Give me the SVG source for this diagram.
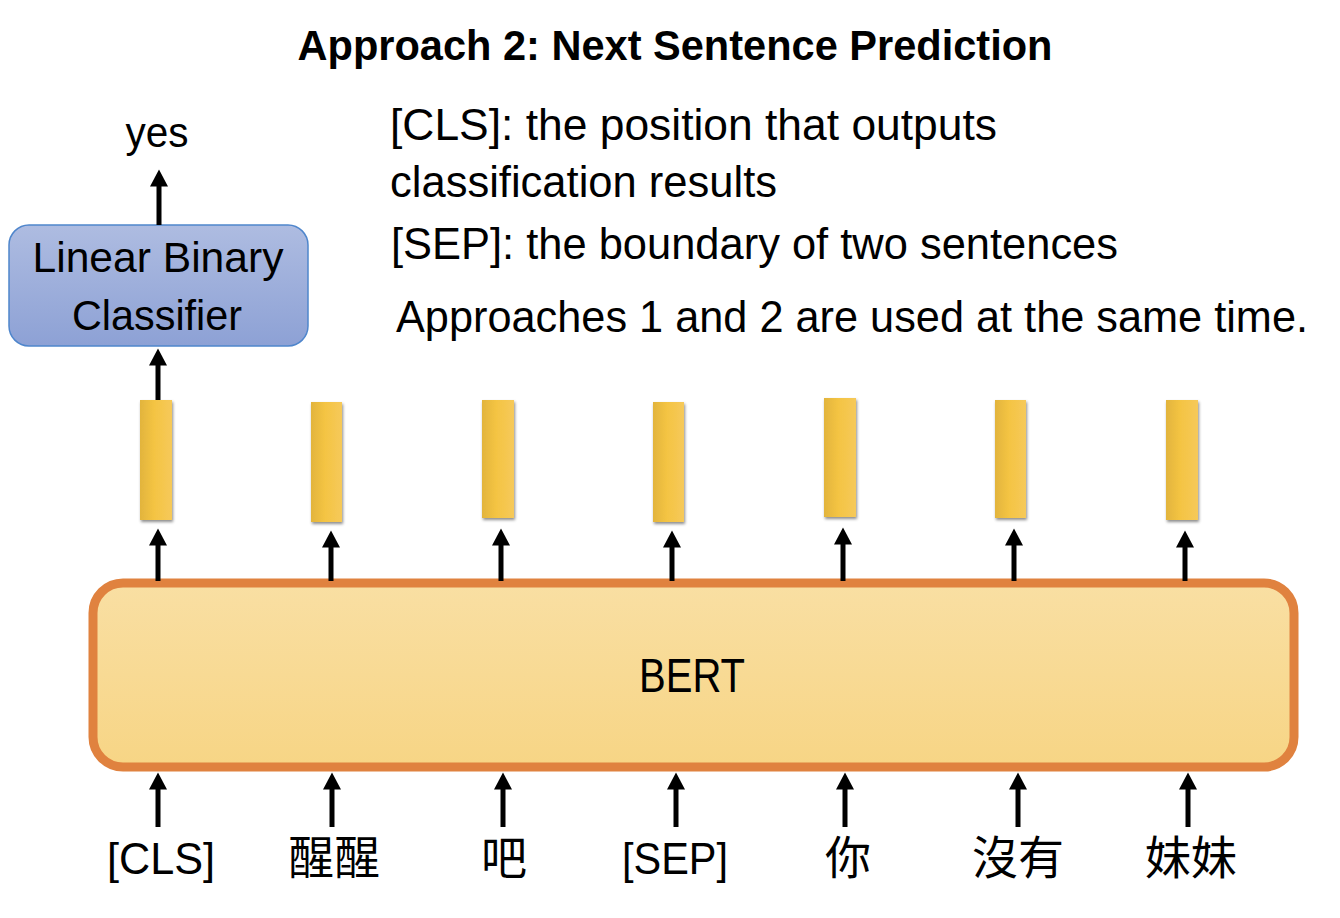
<svg xmlns="http://www.w3.org/2000/svg" width="1340" height="918" viewBox="0 0 1340 918">
<defs>
<style>
.t{font-family:"Liberation Sans",Arial,sans-serif;fill:#000}
.cjk{font-family:"Liberation Sans","Noto Sans CJK TC",sans-serif;fill:#000}
.arr{stroke:#000;stroke-width:5;fill:none;marker-end:url(#ah)}
.bar{fill:url(#barG);filter:url(#sh)}
</style>
<linearGradient id="bertG" x1="0" y1="0" x2="0" y2="1">
<stop offset="0" stop-color="#F9DFA3"/>
<stop offset="1" stop-color="#F7D585"/>
</linearGradient>
<linearGradient id="clsG" x1="0" y1="0" x2="0" y2="1">
<stop offset="0" stop-color="#AEBCE1"/>
<stop offset="1" stop-color="#8DA1D5"/>
</linearGradient>
<linearGradient id="barG" x1="0" y1="0" x2="1" y2="0">
<stop offset="0" stop-color="#E2B43D"/>
<stop offset="0.45" stop-color="#F4C443"/>
<stop offset="1" stop-color="#F6C95A"/>
</linearGradient>
<filter id="sh" x="-30%" y="-10%" width="160%" height="130%">
<feDropShadow dx="1" dy="2" stdDeviation="1.5" flood-color="#000" flood-opacity="0.45"/>
</filter>
<marker id="ah" markerUnits="userSpaceOnUse" markerWidth="18" markerHeight="18" viewBox="0 0 18 18" refX="0.5" refY="9" orient="auto">
<path d="M0,0 L17,9 L0,18 z" fill="#000"/>
</marker>
</defs>
<rect width="1340" height="918" fill="#fff"/>

<g id="title">
<text class="t" x="675" y="60" font-size="42" font-weight="bold" text-anchor="middle" textLength="755" lengthAdjust="spacingAndGlyphs">Approach 2: Next Sentence Prediction</text>
</g>

<g id="notes">
<text class="t" x="390" y="140" font-size="44" textLength="607" lengthAdjust="spacingAndGlyphs">[CLS]: the position that outputs</text>
<text class="t" x="390" y="197" font-size="44" textLength="387" lengthAdjust="spacingAndGlyphs">classification results</text>
<text class="t" x="391" y="259" font-size="44" textLength="727" lengthAdjust="spacingAndGlyphs">[SEP]: the boundary of two sentences</text>
<text class="t" x="396" y="332" font-size="44" textLength="912" lengthAdjust="spacingAndGlyphs">Approaches 1 and 2 are used at the same time.</text>
</g>

<g id="yes">
<text class="t" x="157" y="147" font-size="43" text-anchor="middle" textLength="63" lengthAdjust="spacingAndGlyphs">yes</text>
</g>

<g id="classifier">
<rect x="9" y="225" width="299" height="121" rx="20" ry="20" fill="url(#clsG)" stroke="#4F86CC" stroke-width="1.5"/>
<text class="t" x="158" y="272" font-size="43" text-anchor="middle" textLength="251" lengthAdjust="spacingAndGlyphs">Linear Binary</text>
<text class="t" x="157" y="330" font-size="43" text-anchor="middle" textLength="170" lengthAdjust="spacingAndGlyphs">Classifier</text>
</g>

<g id="outputs">
<rect class="bar" x="140" y="400" width="32" height="120"/>
<rect class="bar" x="311" y="402" width="31" height="120"/>
<rect class="bar" x="482" y="400" width="32" height="118"/>
<rect class="bar" x="653" y="402" width="31" height="120"/>
<rect class="bar" x="824" y="398" width="32" height="119"/>
<rect class="bar" x="995" y="400" width="31" height="118"/>
<rect class="bar" x="1166" y="400" width="32" height="120"/>
</g>

<g id="bert">
<rect x="93" y="583" width="1201" height="184" rx="30" ry="30" fill="url(#bertG)" stroke="#E0823F" stroke-width="9"/>
<text class="t" x="692" y="692" font-size="48" text-anchor="middle" textLength="106" lengthAdjust="spacingAndGlyphs">BERT</text>
</g>

<g id="inputs">
<text class="t" x="161" y="874" font-size="45" text-anchor="middle" textLength="108" lengthAdjust="spacingAndGlyphs">[CLS]</text>
<text class="cjk" x="334" y="874" font-size="46" text-anchor="middle">醒醒</text>
<text class="cjk" x="504" y="874" font-size="46" text-anchor="middle">吧</text>
<text class="t" x="675" y="874" font-size="45" text-anchor="middle" textLength="106" lengthAdjust="spacingAndGlyphs">[SEP]</text>
<text class="cjk" x="848" y="874" font-size="46" text-anchor="middle">你</text>
<text class="cjk" x="1018" y="874" font-size="46" text-anchor="middle">沒有</text>
<text class="cjk" x="1191" y="874" font-size="46" text-anchor="middle">妹妹</text>
</g>

<g id="connectors">
<line class="arr" x1="159" y1="225" x2="159" y2="186"/>
<line class="arr" x1="158" y1="400" x2="158" y2="365"/>
<line class="arr" x1="158" y1="581" x2="158" y2="545"/>
<line class="arr" x1="331" y1="581" x2="331" y2="547"/>
<line class="arr" x1="501" y1="581" x2="501" y2="545"/>
<line class="arr" x1="672" y1="581" x2="672" y2="547"/>
<line class="arr" x1="843" y1="581" x2="843" y2="544"/>
<line class="arr" x1="1014" y1="581" x2="1014" y2="545"/>
<line class="arr" x1="1185" y1="581" x2="1185" y2="547"/>
<line class="arr" x1="158" y1="827" x2="158" y2="789"/>
<line class="arr" x1="332" y1="827" x2="332" y2="789"/>
<line class="arr" x1="503" y1="827" x2="503" y2="789"/>
<line class="arr" x1="676" y1="827" x2="676" y2="789"/>
<line class="arr" x1="845" y1="827" x2="845" y2="789"/>
<line class="arr" x1="1018" y1="827" x2="1018" y2="789"/>
<line class="arr" x1="1188" y1="827" x2="1188" y2="789"/>
</g>
</svg>
